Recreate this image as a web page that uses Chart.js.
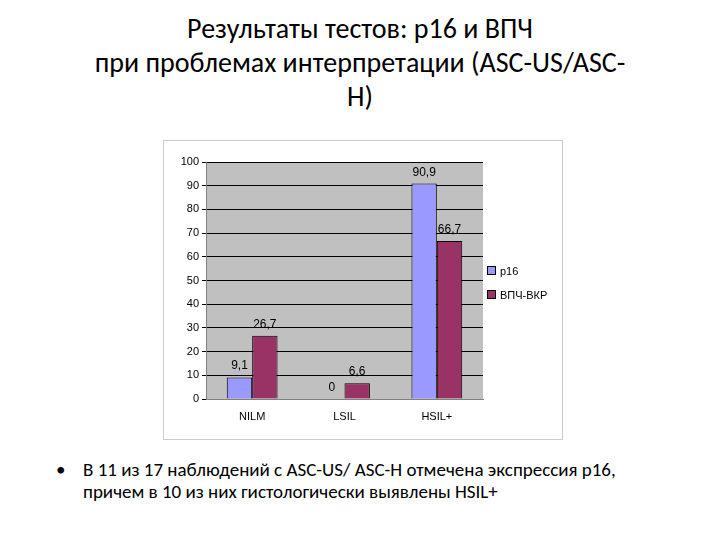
<!DOCTYPE html>
<html><head><meta charset="utf-8">
<script src="https://cdn.jsdelivr.net/npm/chart.js@4/dist/chart.umd.min.js"></script>
<style>
body{margin:0;width:720px;height:540px;background:#fff;font-family:Calibri,"Liberation Sans",Carlito,sans-serif;position:relative;overflow:hidden}
#title{position:absolute;left:0;top:12px;width:720px;text-align:center;font-size:28px;line-height:34px;color:#000}
#box{position:absolute;left:163px;top:140px;width:400px;height:300px;border:1px solid #ccc;box-sizing:border-box}
#leg{position:absolute;left:487px;top:259px;font-family:"Liberation Sans",Arial,sans-serif;font-size:11px;line-height:24px}
#leg span{display:inline-block;width:7px;height:7px;border:1px solid #000;margin-right:4px}
#bul{position:absolute;left:56px;top:459px;font-size:19px;line-height:22px;color:#000}
#bul div{padding-left:27px;position:relative}
#bul div b{position:absolute;left:0;font-weight:normal}
</style></head><body>
<div id="title">Результаты тестов: p16 и ВПЧ<br>при проблемах интерпретации (ASC-US/ASC-<br>H)</div>
<div id="box"><canvas id="c" width="398" height="298"></canvas></div>
<div id="leg"><div><span style="background:#9999FF"></span>p16</div><div><span style="background:#993366"></span>ВПЧ-ВКР</div></div>
<div id="bul"><div><b>•</b>В 11 из 17 наблюдений с ASC-US/ ASC-H отмечена экспрессия p16,<br>причем в 10 из них гистологически выявлены HSIL+</div></div>
<script>
const categories=["NILM","LSIL","HSIL+"];
const p16=[9.1,0,90.9];
const vpch=[26.7,6.6,66.7];
const labelsP16=["9,1","0","90,9"];
const labelsVpch=["26,7","6,6","66,7"];
const bg={id:'bg',beforeDraw(ch){const a=ch.chartArea,x=ch.ctx;x.save();x.fillStyle='#C0C0C0';x.fillRect(a.left,a.top,a.right-a.left,a.bottom-a.top);x.restore();}};
const lbl={id:'lbl',afterDatasetsDraw(ch){const x=ch.ctx;x.save();x.font='12px "Liberation Sans",Arial';x.fillStyle='#000';x.textAlign='center';
[labelsP16,labelsVpch].forEach((L,di)=>{ch.getDatasetMeta(di).data.forEach((b,i)=>{x.fillText(L[i],b.x,b.y-8);});});x.restore();}};
new Chart(document.getElementById('c'),{type:'bar',
data:{labels:categories,datasets:[
{label:'p16',data:p16,backgroundColor:'#9999FF',borderColor:'#000',borderWidth:1},
{label:'ВПЧ-ВКР',data:vpch,backgroundColor:'#993366',borderColor:'#000',borderWidth:1}]},
options:{responsive:false,animation:false,layout:{padding:{top:21,right:79,left:0,bottom:0}},
plugins:{legend:{display:false},tooltip:{enabled:false}},
datasets:{bar:{categoryPercentage:0.55,barPercentage:1}},
scales:{y:{min:0,max:100,ticks:{stepSize:10,color:'#000',font:{family:'"Liberation Sans",Arial',size:11}},grid:{color:'#000',drawTicks:true,tickLength:4},border:{color:'#808080'},afterFit(s){s.width=42;}},
x:{grid:{display:false},ticks:{color:'#000',font:{family:'"Liberation Sans",Arial',size:11}},border:{color:'#808080'},afterFit(s){s.height=40;}}}},
plugins:[bg,lbl]});
</script></body></html>
